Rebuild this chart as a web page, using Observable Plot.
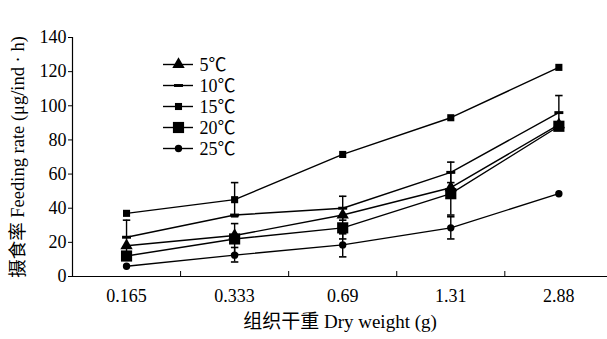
<!DOCTYPE html>
<html>
<head>
<meta charset="utf-8">
<script src="https://cdn.jsdelivr.net/npm/d3@7"></script>
<script src="https://cdn.jsdelivr.net/npm/@observablehq/plot@0.6"></script>
<style>
  html, body { margin: 0; padding: 0; background: #fff; }
  #wrap { position: relative; width: 607px; height: 339px; }
  #legend { position: absolute; left: 150px; top: 51px; }
  #legend svg, #chart svg { display: block; }
  svg { font-family: "Liberation Serif", "Noto Sans CJK SC", serif; }
</style>
</head>
<body>
<div id="wrap"><div id="chart"></div><div id="legend"></div></div>
<script>
// ---- data ----
const categories = ["0.165", "0.333", "0.69", "1.31", "2.88"];
const seriesNames = ["5℃", "10℃", "15℃", "20℃", "25℃"];
const rate5  = [18, 24, 36, 52, 89];
const rate10 = [23, 36, 40, 61, 96];
const rate15 = [37, 45, 71.5, 93, 122.5];
const rate20 = [12, 22, 28.5, 48.5, 88];
const rate25 = [6, 12.5, 18.5, 28.5, 48.5];
const yTicks = [0, 20, 40, 60, 80, 100, 120, 140];
// error bars
const errSeries = ["10℃", "15℃", "20℃", "25℃", "10℃", "20℃", "25℃", "10℃", "20℃", "25℃", "10℃"];
const errCat    = [0, 1, 1, 1, 2, 2, 2, 3, 3, 3, 4];
const errLow    = [13, 35, 13, 8.5, 33, 22, 11.5, 55, 36, 22, 86];
const errHigh   = [33, 55, 31, 17, 47, 35, 25, 67, 61, 35, 106];

const values = {"5℃": rate5, "10℃": rate10, "15℃": rate15, "20℃": rate20, "25℃": rate25};

const dashSym = {draw(ctx, size) { const w = Math.sqrt(size); ctx.rect(-w * 0.55, -w * 0.18, w * 1.1, w * 0.36); }};
const capSym = {draw(ctx, size) { const w = Math.sqrt(size); ctx.moveTo(-w / 2, 0); ctx.lineTo(w / 2, 0); }};
const symbols = {"5℃": "triangle", "10℃": dashSym, "15℃": "square", "20℃": "square", "25℃": "circle"};
const radii = {"5℃": 4.6, "10℃": 4.6, "15℃": 4.0, "20℃": 6.3, "25℃": 3.7};

const rows = [];
for (const s of seriesNames) values[s].forEach((v, i) => rows.push({s, i, v}));
const errs = errSeries.map((s, k) => ({s, i: errCat[k], lo: errLow[k], hi: errHigh[k]}));
const caps = errs.flatMap(e => [{i: e.i, v: e.lo}, {i: e.i, v: e.hi}]);

const dotMarks = seriesNames.map(s => Plot.dot(rows.filter(r => r.s === s), {
  x: "i", y: "v", symbol: () => symbols[s], r: radii[s], fill: "black", stroke: "none"
}));

const chart = Plot.plot({
  width: 607, height: 339,
  marginLeft: 72, marginRight: 0, marginTop: 37, marginBottom: 63,
  style: {fontSize: "18px", color: "black", background: "white"},
  x: {type: "linear", domain: [-0.5, 4.45], range: [72, 607]},
  y: {domain: [0, 140], range: [276, 37]},
  symbol: {type: "identity"},
  marks: [
    Plot.axisY({ticks: yTicks, tickSize: 4, tickPadding: 2, label: null, fontSize: 18}),
    Plot.axisY({ticks: [], label: "摄食率 Feeding rate (μg/ind · h)", labelAnchor: "center", labelArrow: "none", labelOffset: 62, fontSize: 18.5, style: {letterSpacing: "1.6px"}}),
    Plot.axisX({ticks: d3.range(categories.length), tickFormat: i => categories[i], tickSize: 0, tickPadding: 13, label: null, fontSize: 18, style: {letterSpacing: "1.5px"}}),
    Plot.axisX({ticks: d3.range(categories.length - 1).map(i => i + 0.5), tickFormat: () => "", tickSize: -5, label: "组织干重 Dry weight (g)", labelAnchor: "center", labelArrow: "none", labelOffset: 51, fontSize: 19, style: {letterSpacing: "2.2px"}}),
    Plot.ruleY([0], {stroke: "black", strokeWidth: 1.2}),
    Plot.ruleX([-0.5], {stroke: "black", strokeWidth: 1.2}),
    Plot.line(rows, {x: "i", y: "v", z: "s", stroke: "black", strokeWidth: 1.4}),
    Plot.ruleX(errs, {x: "i", y1: "lo", y2: "hi", stroke: "black", strokeWidth: 1.4}),
    Plot.dot(caps, {x: "i", y: "v", symbol: () => capSym, r: 4.2, stroke: "black", strokeWidth: 1.6, fill: "none"}),
    ...dotMarks
  ]
});
document.getElementById("chart").appendChild(chart);

// legend
const legRows = seriesNames.map((s, k) => ({s, k}));
const legend = Plot.plot({
  width: 120, height: 110,
  margin: 0,
  style: {fontSize: "18px", color: "black", background: "transparent"},
  x: {domain: [0, 120], range: [0, 120], axis: null},
  y: {type: "point", domain: seriesNames, range: [12, 98], padding: 0, axis: null},
  symbol: {type: "identity"},
  marks: [
    Plot.ruleY(legRows, {y: "s", x1: 13, x2: 43, stroke: "black", strokeWidth: 1.4}),
    ...seriesNames.map(s => Plot.dot(legRows.filter(r => r.s === s), {x: 28, y: "s", symbol: () => symbols[s], r: radii[s], fill: "black", stroke: "none"})),
    Plot.text(legRows, {x: 49, y: "s", text: "s", textAnchor: "start", fontSize: 18, dy: 1})
  ]
});
document.getElementById("legend").appendChild(legend);
</script>
</body>
</html>
